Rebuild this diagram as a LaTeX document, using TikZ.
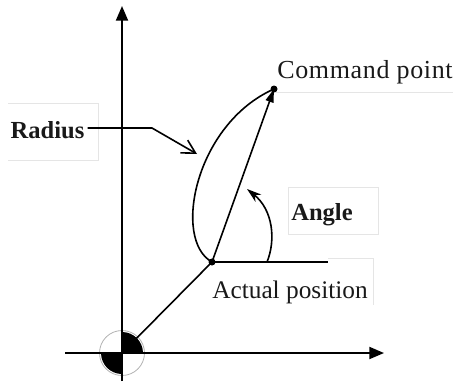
\documentclass[tikz,border=0pt]{standalone}
\usepackage{fontspec}
\setmainfont{Liberation Serif}
\usetikzlibrary{arrows.meta}
\tikzset{
  lbl/.style={font=\fontsize{19}{21}\selectfont, inner sep=0pt, anchor=base, text=black!90},
  blbl/.style={lbl, font=\fontsize{18.4}{20}\selectfont\bfseries},
  faint/.style={draw=black!10, line width=0.6pt},
  axis/.style={line width=1.4pt, -{Triangle[length=11pt,width=9pt]}},
  ln/.style={line width=1.2pt},
}
\begin{document}
\begin{tikzpicture}[x=0.75pt,y=-0.75pt]
\useasboundingbox (0,0) rectangle (453,382);
% faint label boxes
\draw[faint] (8,103) -- (98,103) -- (98,160) -- (8,160);
\draw[faint] (288,187) rectangle (378,234);
\draw[faint] (328,258) -- (373,258) -- (373,305);
\draw[faint] (275,92) -- (453,92);
% points
\coordinate (O) at (122,353);
\coordinate (A) at (212,262);
\coordinate (C) at (274,89);
\coordinate (yb) at (122,381);
\coordinate (yt) at (122,6);
\coordinate (xl) at (65,353);
\coordinate (xr) at (384,353);
\coordinate (hr) at (328,262);
\coordinate (rb) at (152,128);
\coordinate (rt) at (197,154);
\coordinate (a0) at (267,262);
\coordinate (a1) at (247,189);
% labels
\node[blbl] (rad) at (47.5,138) {Radius};
\node[blbl] (ang) at (322,220) {Angle};
\node[lbl, font=\fontsize{19.5}{21}\selectfont\addfontfeature{LetterSpace=2.5}] (cmd) at (365,78) {Command point};
\node[lbl] (act) at (290,298) {Actual position};
% origin symbol
\draw[black!30, line width=0.6pt] (O) circle (22.5);
\fill (O) -- ++(21,0) arc[start angle=0,end angle=-90,radius=21] -- cycle;
\fill (O) -- ++(-21,0) arc[start angle=180,end angle=90,radius=21] -- cycle;
% axes
\draw[axis] (yb) -- (yt);
\draw[axis] (xl) -- (xr);
% geometry
\draw[ln] (O) -- (A);
\draw[ln] (A) -- (hr);
\draw[ln] (A) .. controls (172,240) and (195,124) .. (C);
\draw[ln, -{Triangle[length=10pt,width=6pt]}] (A) -- (C);
\draw[ln, -{Stealth[length=11pt,width=7pt]}] (a0) .. controls (276,240) and (273,210) .. (a1);
\draw[ln, -{Straight Barb[length=10pt,width=11pt]}] (rad.east |- rb) ++(3,0) -- (rb) -- (rt);
\fill (A) circle (3.5);
\fill (C) circle (3.5);
\end{tikzpicture}
\end{document}
